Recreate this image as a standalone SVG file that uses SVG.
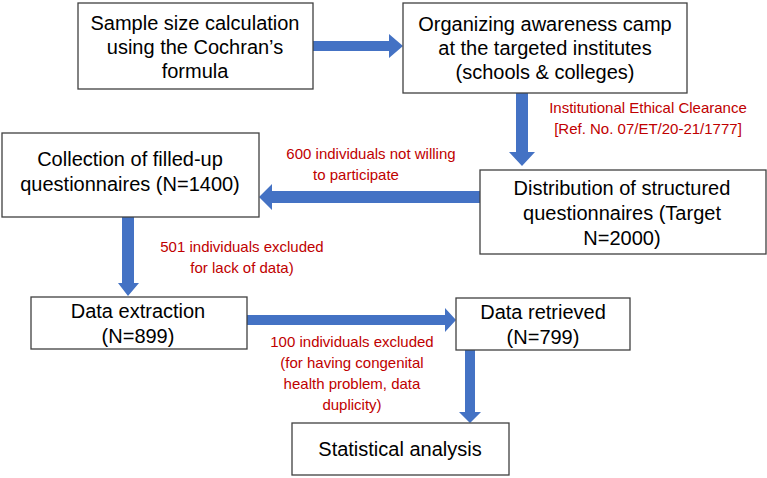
<svg xmlns="http://www.w3.org/2000/svg" width="767" height="478" viewBox="0 0 767 478">
<style>
.box{fill:#fff;stroke:#404040;stroke-width:1.3}
.t{font-family:"Liberation Sans",Arial,sans-serif;font-size:20px;fill:#000;text-anchor:middle}
.r{font-family:"Liberation Sans",Arial,sans-serif;font-size:15px;fill:#c00000;text-anchor:middle}
.a{fill:#4472c4}
</style>
<g id="connectors">
<polygon class="a" points="313,41 389,41 389,34 403,46 389,58 389,51 313,51"/>
<polygon class="a" points="516,93 528,93 528,152 535,152 522,166 509,152 516,152"/>
<polygon class="a" points="480,191 272,191 272,184 259,197 272,210 272,203 480,203"/>
<polygon class="a" points="122,217 134,217 134,283 139,283 128,296 118,283 122,283"/>
<polygon class="a" points="247,315 445,315 445,308 456,320 445,332 445,325 247,325"/>
<polygon class="a" points="465,350 475,350 475,412 481,412 470,423 459,412 465,412"/>
</g>
<g id="n1"><rect class="box" x="78" y="3" width="235" height="86"/><text class="t" x="195" y="30">Sample size calculation</text><text class="t" x="195" y="54">using the Cochran’s</text><text class="t" x="195" y="78">formula</text></g>
<g id="n2"><rect class="box" x="403" y="3" width="284" height="90"/><text class="t" x="545" y="31">Organizing awareness camp</text><text class="t" x="545" y="55">at the targeted institutes</text><text class="t" x="545" y="79">(schools &amp; colleges)</text></g>
<text class="r" x="648" y="113">Institutional Ethical Clearance</text>
<text class="r" x="648" y="134">[Ref. No. 07/ET/20-21/1777]</text>
<g id="n3"><rect class="box" x="2" y="133" width="257" height="84"/><text class="t" x="130" y="166">Collection of filled-up</text><text class="t" x="130" y="191">questionnaires (N=1400)</text></g>
<text class="r" x="371" y="159">600 individuals not willing</text>
<text class="r" x="356" y="180">to participate</text>
<g id="n4"><rect class="box" x="480" y="170" width="286" height="84"/><text class="t" x="622" y="195">Distribution of structured</text><text class="t" x="622" y="220">questionnaires (Target</text><text class="t" x="622" y="245">N=2000)</text></g>
<text class="r" x="242" y="252">501 individuals excluded</text>
<text class="r" x="242" y="273">for lack of data)</text>
<g id="n5"><rect class="box" x="31" y="297" width="216" height="52"/><text class="t" x="138" y="318">Data extraction</text><text class="t" x="138" y="343">(N=899)</text></g>
<g id="n6"><rect class="box" x="456" y="298" width="174" height="52"/><text class="t" x="543" y="319">Data retrieved</text><text class="t" x="543" y="344">(N=799)</text></g>
<text class="r" x="352" y="347">100 individuals excluded</text>
<text class="r" x="352" y="368">(for having congenital</text>
<text class="r" x="352" y="389">health problem, data</text>
<text class="r" x="352" y="410">duplicity)</text>
<g id="n7"><rect class="box" x="292" y="423" width="217" height="52"/><text class="t" x="400" y="456">Statistical analysis</text></g>
</svg>
